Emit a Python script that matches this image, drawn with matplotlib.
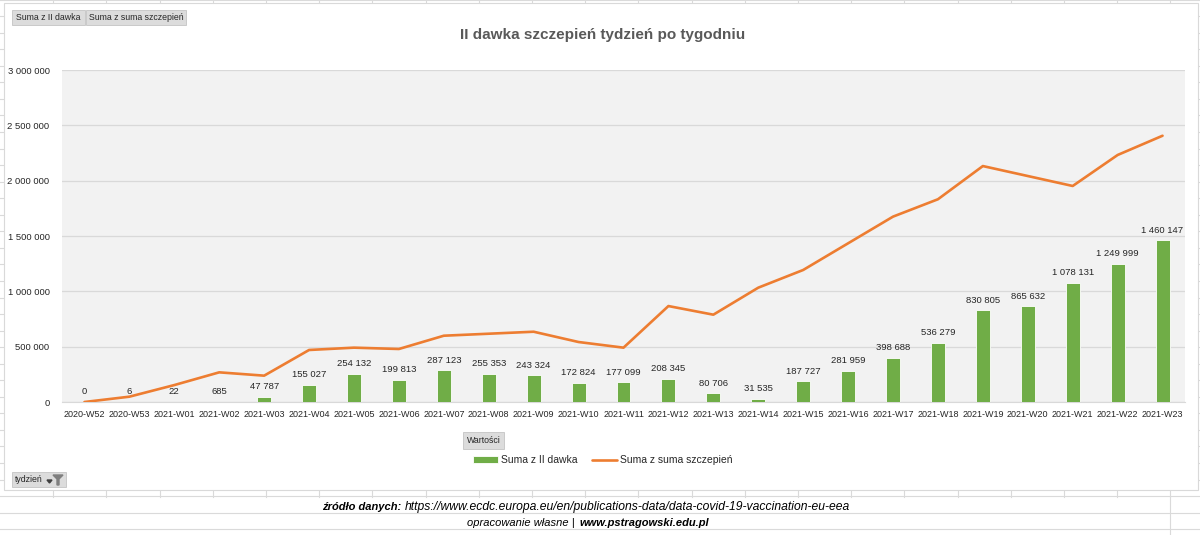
import matplotlib
matplotlib.use('Agg')
import matplotlib.pyplot as plt
from matplotlib.patches import Rectangle, Polygon
from matplotlib.lines import Line2D
from matplotlib.ticker import FuncFormatter

weeks = ['2020-W52', '2020-W53', '2021-W01', '2021-W02', '2021-W03', '2021-W04',
         '2021-W05', '2021-W06', '2021-W07', '2021-W08', '2021-W09', '2021-W10',
         '2021-W11', '2021-W12', '2021-W13', '2021-W14', '2021-W15', '2021-W16',
         '2021-W17', '2021-W18', '2021-W19', '2021-W20', '2021-W21', '2021-W22',
         '2021-W23']
second_dose = [0, 6, 22, 685, 47787, 155027, 254132, 199813, 287123, 255353,
               243324, 172824, 177099, 208345, 80706, 31535, 187727, 281959,
               398688, 536279, 830805, 865632, 1078131, 1249999, 1460147]
total_doses = [0, 48000, 153000, 268000, 238000, 470000, 491000, 479000, 599000,
               617000, 635000, 542000, 491000, 867000, 789000, 1033000, 1193000,
               1434000, 1675000, 1832000, 2132000, 2042000, 1952000, 2232000,
               2406000]
y_ticks = [0, 500000, 1000000, 1500000, 2000000, 2500000, 3000000]

title = 'II dawka szczepień tydzień po tygodniu'
bar_name = 'Suma z II dawka'
line_name = 'Suma z suma szczepień'

plt.rcParams['font.family'] = ['Liberation Sans', 'DejaVu Sans']

W, H = 1200, 535
fig = plt.figure(figsize=(W / 100, H / 100), dpi=100)
fig.patch.set_facecolor('white')


def fx(x):
    return x / W


def fy(y):
    return 1 - y / H


def frect(x0, y0, x1, y1, **kw):
    r = Rectangle((fx(x0), fy(y1)), fx(x1) - fx(x0), fy(y0) - fy(y1),
                  transform=fig.transFigure, **kw)
    fig.add_artist(r)
    return r


def fline(xs, ys, **kw):
    fig.add_artist(Line2D([fx(v) for v in xs], [fy(v) for v in ys],
                          transform=fig.transFigure, **kw))


# spreadsheet grid behind the chart
grid_c = '#DADADA'
x = 53.2
while x < W:
    fline([x, x], [0, 497], color=grid_c, lw=0.8, zorder=0)
    x += 53.2
fline([1170, 1170], [497, H], color=grid_c, lw=0.8, zorder=0)
y = 132 - 16.55 * 8
while y < H:
    fline([0, W], [y, y], color=grid_c, lw=0.8, zorder=0)
    y += 16.55

# chart frame
frect(4, 3, 1198, 490, facecolor='white', edgecolor='#D9D9D9', lw=0.8, zorder=1)

ax = fig.add_axes([fx(62), fy(402), fx(1185) - fx(62), fy(70) - fy(402)], zorder=2)
ax.set_facecolor('#F2F2F2')
xs = list(range(len(weeks)))
bars = ax.bar(xs, second_dose, width=0.31, color='#70AD47', edgecolor='white',
              linewidth=0.6, zorder=3, label=bar_name)
ax.plot(xs, total_doses, color='#ED7D31', lw=1.9, zorder=4, label=line_name,
        solid_capstyle='round')

fmt = lambda v: f'{v:,.0f}'.replace(',', ' ')
for xi, v in zip(xs, second_dose):
    ax.annotate(fmt(v), (xi, v), xytext=(0, 4), textcoords='offset points',
                ha='center', va='bottom', fontsize=6.8, color='#262626', zorder=5)

ax.set_xlim(-0.5, len(weeks) - 0.5)
ax.set_ylim(0, 3000000)
ax.set_yticks(y_ticks)
ax.yaxis.set_major_formatter(FuncFormatter(lambda v, p: fmt(v)))
ax.set_xticks(xs)
ax.set_xticklabels(weeks)
ax.tick_params(axis='both', length=0, labelcolor='#262626')
ax.tick_params(axis='x', pad=6, labelsize=6.5)
ax.tick_params(axis='y', pad=9, labelsize=6.8)
ax.grid(axis='y', color='#D9D9D9', lw=0.9, zorder=0)
ax.set_axisbelow(True)
for s in ['top', 'right', 'left']:
    ax.spines[s].set_visible(False)
ax.spines['bottom'].set_color('#D9D9D9')

fig.text(fx(603), fy(35), title, ha='center', va='center', fontsize=11,
         fontweight='bold', color='#595959')

# legend
leg = fig.legend(handles=[bars, ax.lines[0]], loc='center', ncol=2, frameon=False,
                 bbox_to_anchor=(fx(603), fy(460)), fontsize=7.5,
                 handlelength=2.4, handleheight=0.6, columnspacing=1.4,
                 handletextpad=0.3)
for t in leg.get_texts():
    t.set_color('#262626')


def button(x0, y0, x1, y1, text):
    frect(x0, y0, x1, y1, facecolor='#DCDCDC', edgecolor='#C4C4C4', lw=0.6, zorder=6)
    fig.text(fx((x0 + x1) / 2), fy((y0 + y1) / 2), text, ha='center', va='center',
             fontsize=6.3, color='#262626', zorder=7)


button(12, 10, 85, 25, bar_name)
button(86, 10, 186, 25, line_name)
button(463, 432, 504, 449, 'Wartości')

# field button with dropdown + filter icon
frect(12, 472, 66, 487, facecolor='#DCDCDC', edgecolor='#C4C4C4', lw=0.6, zorder=6)
fig.text(fx(15), fy(479.5), 'tydzień', ha='left', va='center', fontsize=6.3,
         color='#262626', zorder=7)
fig.add_artist(Polygon([(fx(47), fy(480)), (fx(52), fy(480)), (fx(49.5), fy(483))],
                       closed=True, transform=fig.transFigure, color='#404040', zorder=7))
fig.add_artist(Polygon([(fx(53), fy(475)), (fx(63), fy(475)), (fx(59), fy(479)),
                        (fx(59), fy(485)), (fx(57), fy(485)), (fx(57), fy(479))],
                       closed=True, transform=fig.transFigure, color='#7F7F7F', zorder=7))

# footer
fig.text(fx(401), fy(507), 'źródło danych:', ha='right', va='center', fontsize=8,
         style='italic', fontweight='bold', color='black')
fig.text(fx(405), fy(507),
         'https://www.ecdc.europa.eu/en/publications-data/data-covid-19-vaccination-eu-eea',
         ha='left', va='center', fontsize=8.7, style='italic', color='black')
fig.text(fx(575), fy(523), 'opracowanie własne |', ha='right', va='center', fontsize=8,
         style='italic', color='black')
fig.text(fx(579), fy(523), 'www.pstragowski.edu.pl', ha='left', va='center', fontsize=8,
         style='italic', fontweight='bold', color='black')

fig.savefig('out.png', dpi=100)
